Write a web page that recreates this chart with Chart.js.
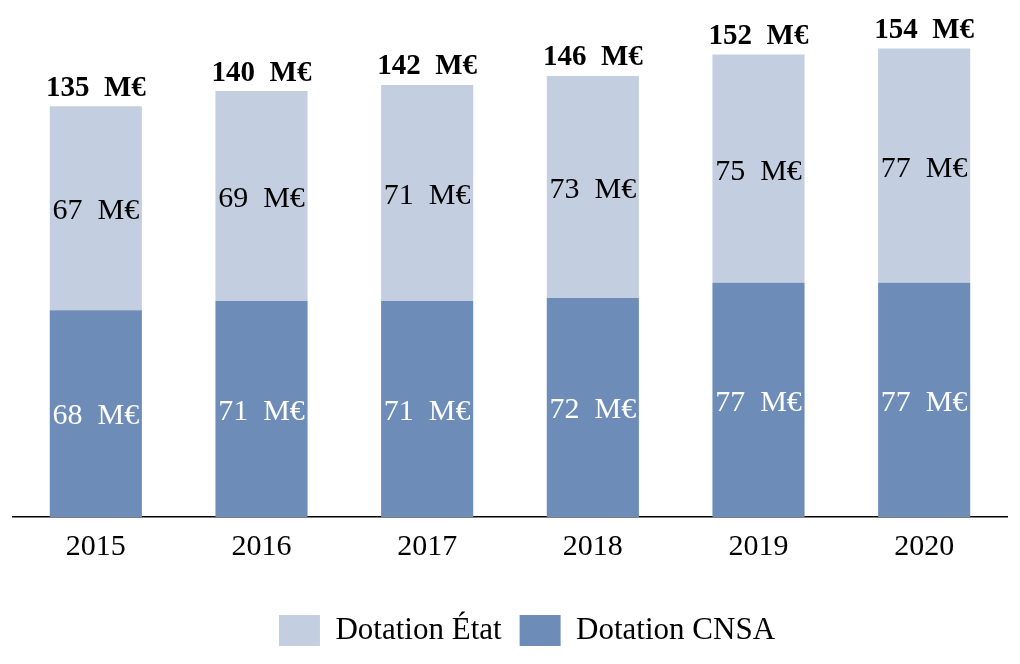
<!DOCTYPE html>
<html>
<head>
<meta charset="utf-8">
<script src="https://cdn.jsdelivr.net/npm/chart.js@4"></script>
<style>
  html, body { margin: 0; padding: 0; background: #fff; }
  #wrap { width: 1020px; height: 664px; position: relative; }
</style>
</head>
<body>
<div id="wrap"><canvas id="chart"></canvas></div>
<script>
// Data
const years = ['2015', '2016', '2017', '2018', '2019', '2020'];
const dotationCNSA = [68, 71, 71, 72, 77, 77];
const dotationEtat = [67, 69, 71, 73, 75, 77];
const totals = [135, 140, 142, 146, 152, 154];

const FONT = '"Liberation Serif", "DejaVu Serif", serif';

// Labels inside segments and totals above bars
const labelPlugin = {
    id: 'labels',
    afterLayout(chart) {
        // legend sits a bit right of centre in the original
        chart.legend.left += 17;
        chart.legend.right += 17;
    },
    afterDatasetsDraw(chart) {
        const ctx = chart.ctx;
        ctx.save();
        ctx.textAlign = 'center';
        ctx.textBaseline = 'middle';
        chart.data.datasets.forEach((ds, i) => {
            const meta = chart.getDatasetMeta(i);
            meta.data.forEach((bar, j) => {
                const mid = (bar.y + bar.base) / 2;
                ctx.font = '30px ' + FONT;
                ctx.fillStyle = ds.labelColor;
                ctx.fillText(ds.data[j] + '  M€', bar.x, mid + 3);
            });
        });
        const top = chart.getDatasetMeta(1);
        top.data.forEach((bar, j) => {
            ctx.font = 'bold 29px ' + FONT;
            ctx.fillStyle = '#000';
            ctx.fillText(totals[j] + '  M€', bar.x, bar.y - 18);
        });
        ctx.restore();
    }
};

new Chart(document.getElementById('chart'), {
    type: 'bar',
    data: {
        labels: years,
        datasets: [
            {
                label: 'Dotation CNSA',
                data: dotationCNSA,
                backgroundColor: '#6D8DB8',
                labelColor: '#fff',
                barPercentage: 0.556,
                categoryPercentage: 1
            },
            {
                label: 'Dotation État',
                data: dotationEtat,
                backgroundColor: '#C3CEE0',
                labelColor: '#000',
                barPercentage: 0.556,
                categoryPercentage: 1
            }
        ]
    },
    options: {
        responsive: true,
        maintainAspectRatio: false,
        animation: false,
        layout: { padding: { left: 13, right: 13, top: 12, bottom: 8 } },
        plugins: {
            tooltip: { enabled: false },
            legend: {
                position: 'bottom',
                reverse: true,
                labels: {
                    font: { family: FONT, size: 31 },
                    color: '#000',
                    boxWidth: 41,
                    boxHeight: 31,
                    padding: 18
                }
            }
        },
        scales: {
            x: {
                stacked: true,
                grid: { display: false },
                border: { display: true, color: '#000', width: 1.5 },
                ticks: { font: { family: FONT, size: 30 }, color: '#000', padding: 4 },
                afterFit(scale) { scale.height = 80; }
            },
            y: {
                stacked: true,
                display: false,
                min: 0,
                max: 166
            }
        }
    },
    plugins: [labelPlugin]
});
</script>
</body>
</html>
